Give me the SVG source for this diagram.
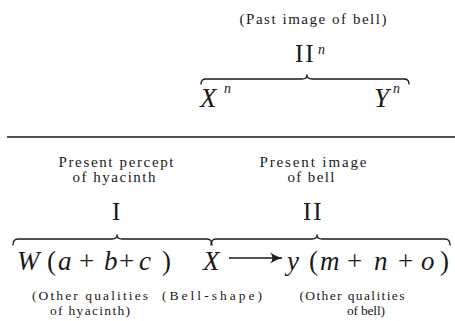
<svg xmlns="http://www.w3.org/2000/svg" width="455" height="321" viewBox="0 0 455 321">
<defs>
<style>
.lbl{font-family:"Liberation Serif","Times New Roman",serif;font-size:15px;fill:#1a1a1a}
.sm{font-size:13.5px}
.num{font-family:"Liberation Serif","Times New Roman",serif;font-size:25px;fill:#1a1a1a;letter-spacing:2px}
.m{font-family:"Liberation Serif","Times New Roman",serif;font-size:27px;fill:#1a1a1a;font-style:italic}
.op{font-family:"Liberation Serif","Times New Roman",serif;font-size:27px;fill:#1a1a1a}
.sup{font-family:"Liberation Serif","Times New Roman",serif;font-size:14px;fill:#1a1a1a;font-style:italic}
.brace{fill:none;stroke:#1a1a1a;stroke-width:1.3;stroke-linecap:round;stroke-linejoin:round}
.rule{fill:none;stroke:#1a1a1a;stroke-width:1.6}
.arr{fill:none;stroke:#1a1a1a;stroke-width:1.5}
</style>
<marker id="ah" viewBox="0 0 14 12" refX="13" refY="6" markerWidth="14" markerHeight="12" markerUnits="userSpaceOnUse" orient="auto">
<path d="M1,0.5 Q7,4.5 13,6 Q7,7.5 1,11.5 Q6,6 1,0.5 Z" fill="#1a1a1a"/>
</marker>
</defs>

<g id="past-image">
<text class="lbl" x="313" y="24" text-anchor="middle" textLength="147" lengthAdjust="spacing">(Past image of bell)</text>
<text class="num" x="295" y="62">II</text>
<text class="sup" x="318" y="54" font-size="13">n</text>
<path class="brace" d="M201,84 Q201,79 206,79 L302,79 Q307,79 307,75 Q307,79 312,79 L404,79 Q409,79 409,84"/>
<text class="m" x="200" y="107" font-size="24">X</text>
<text class="sup" x="224" y="93">n</text>
<text class="m" x="374" y="107" font-size="24">Y</text>
<text class="sup" x="393" y="93">n</text>
</g>

<g id="divider">
<line class="rule" x1="7" y1="137" x2="455" y2="137"/>
</g>

<g id="percept-hyacinth">
<text class="lbl" x="116" y="167" text-anchor="middle" textLength="115" lengthAdjust="spacing">Present percept</text>
<text class="lbl" x="114" y="182" text-anchor="middle" textLength="83" lengthAdjust="spacing">of hyacinth</text>
<text class="num" x="112" y="220">I</text>
<path class="brace" d="M13,245 Q13,239 18,239 L112,239 Q117,239 117,235 Q117,239 122,239 L207,239 Q212,239 212,245"/>
<text class="m" x="17" y="270">W</text>
<text class="op" x="47" y="270">(</text>
<text class="m" x="58" y="270">a</text>
<text class="op" x="79" y="270">+</text>
<text class="m" x="104" y="270">b</text>
<text class="op" x="119" y="270">+</text>
<text class="m" x="139" y="270">c</text>
<text class="op" x="162" y="270">)</text>
<text class="lbl sm" x="90" y="300" text-anchor="middle" textLength="116" lengthAdjust="spacing">(Other qualities</text>
<text class="lbl sm" x="90" y="315" text-anchor="middle" textLength="80" lengthAdjust="spacing">of hyacinth)</text>
</g>

<g id="image-bell">
<text class="lbl" x="313" y="167" text-anchor="middle" textLength="107" lengthAdjust="spacing">Present image</text>
<text class="lbl" x="311" y="182" text-anchor="middle" textLength="47" lengthAdjust="spacing">of bell</text>
<text class="num" x="303" y="220">II</text>
<path class="brace" d="M211,245 Q211,239 216,239 L312,239 Q317,239 317,235 Q317,239 322,239 L445,239 Q450,239 450,245"/>
<text class="m" x="203" y="270">X</text>
<text class="m" x="287" y="270">y</text>
<text class="op" x="309" y="270">(</text>
<text class="m" x="320" y="270">m</text>
<text class="op" x="347" y="270">+</text>
<text class="m" x="374" y="270">n</text>
<text class="op" x="398" y="270">+</text>
<text class="m" x="421" y="270">o</text>
<text class="op" x="440" y="270">)</text>
<text class="lbl sm" x="212" y="300" text-anchor="middle" textLength="100" lengthAdjust="spacing">(Bell-shape)</text>
<text class="lbl sm" x="352" y="300" text-anchor="middle" textLength="105" lengthAdjust="spacing">(Other qualities</text>
<text class="lbl sm" x="366" y="315" text-anchor="middle" textLength="38" lengthAdjust="spacing">of bell)</text>
</g>

<g id="connectors">
<line class="arr" x1="229" y1="258" x2="282" y2="258" marker-end="url(#ah)"/>
</g>
</svg>
